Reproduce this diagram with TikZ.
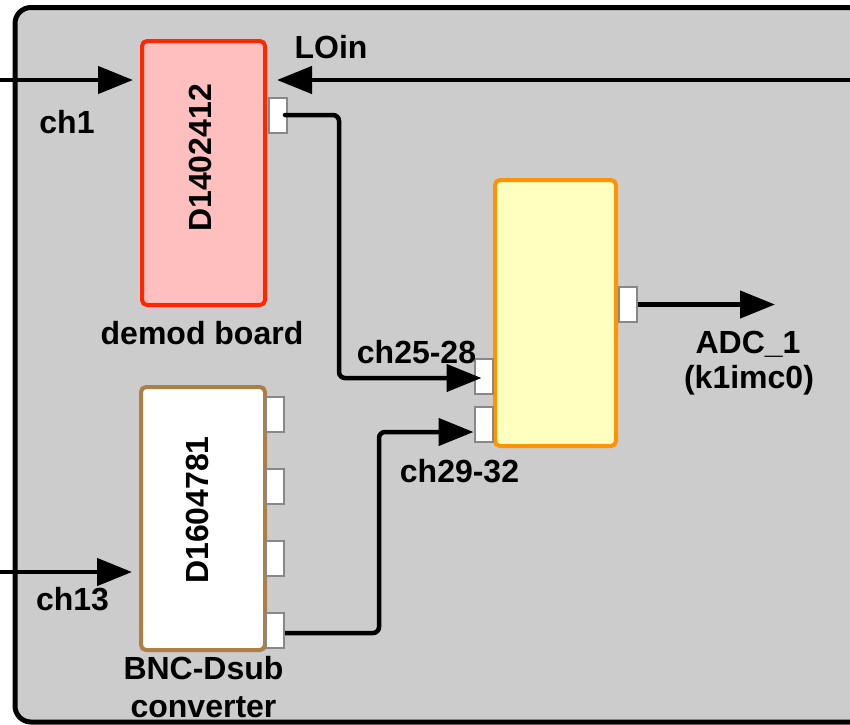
\documentclass[tikz,border=0pt]{standalone}
\usepackage{fontspec}
\setmainfont{Liberation Sans}
\usetikzlibrary{arrows.meta}
\definecolor{bg}{HTML}{CCCCCC}
\definecolor{demodfill}{HTML}{FFBFBF}
\definecolor{demodline}{HTML}{FF2600}
\definecolor{yfill}{HTML}{FFFFC0}
\definecolor{yline}{HTML}{FF9300}
\definecolor{bncline}{HTML}{AD7F44}
\definecolor{portline}{HTML}{888888}
\tikzset{
  lbl/.style={font=\fontsize{32}{36}\selectfont\bfseries, inner sep=0pt, anchor=base},
  rlbl/.style={font=\fontsize{32}{36}\selectfont\bfseries, inner sep=0pt, rotate=90},
  box/.style={draw, line width=4pt, rounded corners=5pt, inner sep=0pt},
  port/.style={draw=portline, fill=white, line width=2pt, minimum width=18pt, minimum height=35pt, inner sep=0pt},
  wire/.style={line width=4.5pt, rounded corners=6pt},
  sig/.style={line width=4.5pt, -{Triangle[length=35pt,width=27pt]}},
}
\begin{document}
\begin{tikzpicture}[x=1pt,y=-1pt]
\useasboundingbox (0,0) rectangle (850,724);
\clip (0,0) rectangle (850,724);
% frame
\draw[fill=bg, line width=5pt, rounded corners=16pt] (15,7.5) rectangle (900,722);
% boxes
\node[box, draw=demodline, fill=demodfill, minimum width=123pt, minimum height=264pt] (demod) at (203.5,173) {};
\node[box, draw=bncline, fill=white, minimum width=124pt, minimum height=263pt] (bnc) at (203,518.5) {};
\node[box, draw=yline, fill=yfill, minimum width=121pt, minimum height=266pt] (yel) at (555.5,313) {};
% ports
\node[port] (dp) at (278,115) {};
\node[port] (bp1) at (275,414) {};
\node[port] (bp2) at (275,486) {};
\node[port] (bp3) at (275,558) {};
\node[port] (bp4) at (275,630) {};
\node[port] (yin1) at (483.5,376) {};
\node[port] (yin2) at (483.5,424.5) {};
\node[port] (yout) at (628,304.5) {};
% rotated labels
\node[rlbl] (t1) at (200.5,158) {D1402412};
\node[rlbl] (t2) at (197.5,510) {D1604781};
% external coordinates
\coordinate (ch1in) at (0,80);
\coordinate (loin) at (850,80);
\coordinate (ch13in) at (0,572);
\coordinate (adcout) at (775,304.5);
% connectors
\draw[sig] (ch1in) -- ([xshift=-7pt]demod.west |- ch1in);
\draw[sig] (loin) -- ([xshift=10pt]demod.east |- loin);
\draw[sig] (ch13in) -- ([xshift=-7pt]bnc.west |- ch13in);
\draw[wire, line cap=round, -{Triangle[length=35pt,width=27pt]}] ([xshift=-3pt]dp.east) -- (339,115) -- (339,378) -- ([shift={(8,2)}]yin1.west);
\draw[wire, -{Triangle[length=35pt,width=27pt]}] ([shift={(0,3)}]bp4.east) -- (379,633) -- (379,432) -- ([shift={(0,7.5)}]yin2.west);
\draw[sig] (yout.east) -- (adcout);
% labels
\node[lbl] (l1) at (67,133) {ch1};
\node[lbl] (l2) at (331,58) {LOin};
\node[lbl] (l3) at (202,344) {demod board};
\node[lbl] (l4) at (416.5,363) {ch25-28};
\node[lbl] (l5) at (459.5,482) {ch29-32};
\node[lbl] (l6) at (748,353) {ADC\_1};
\node[lbl] (l7) at (749,388) {(k1imc0)};
\node[lbl] (l8) at (72.5,610) {ch13};
\node[lbl] (l9) at (203.5,679) {BNC-Dsub};
\node[lbl] (l10) at (203.5,717) {converter};
\end{tikzpicture}
\end{document}
